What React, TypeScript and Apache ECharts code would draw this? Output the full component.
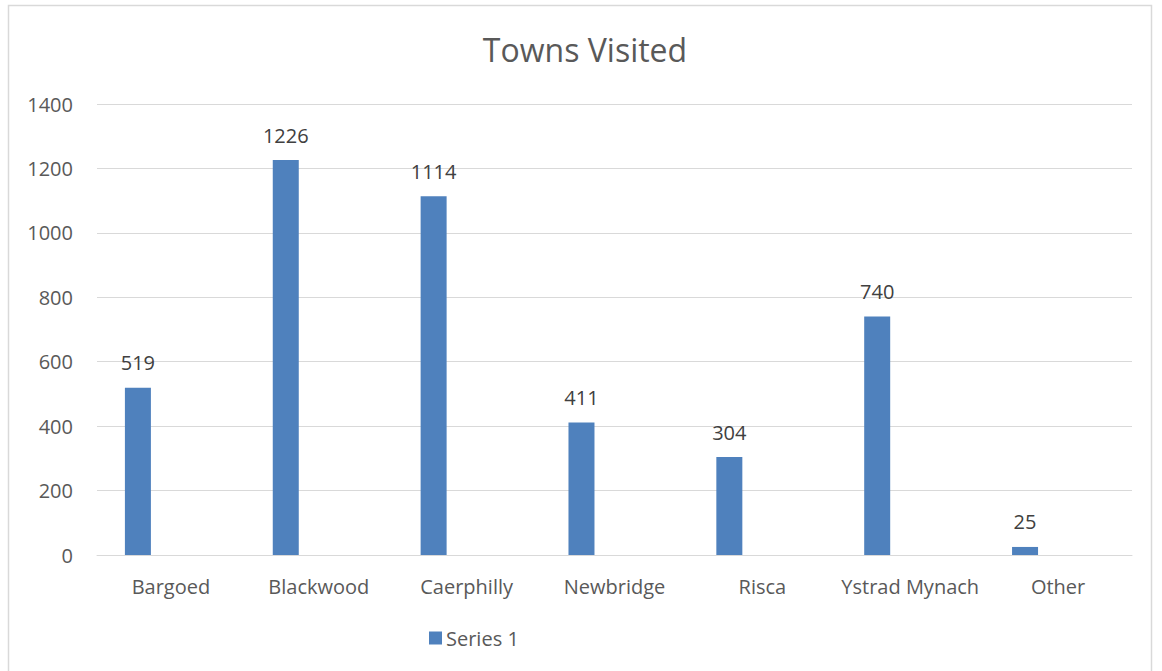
import React, { useEffect, useRef } from "react";
import * as echarts from "echarts";

const categories = ["Bargoed", "Blackwood", "Caerphilly", "Newbridge", "Risca", "Ystrad Mynach", "Other"];
const series1 = [519, 1226, 1114, 411, 304, 740, 25];
const emptySeries: (number | null)[] = [null, null, null, null, null, null, null];
const yTicks = { min: 0, max: 1400, interval: 200 };

const FONT = "'Open Sans', 'Noto Sans', sans-serif";
const TEXT = "#595959";

export default function App() {
  const ref = useRef<HTMLDivElement>(null);
  useEffect(() => {
    if (!ref.current) return;
    const chart = echarts.init(ref.current, null, { renderer: "svg" });
    chart.setOption({
      animation: false,
      backgroundColor: "#ffffff",
      textStyle: { fontFamily: FONT },
      title: {
        text: "Towns Visited",
        left: 580,
        top: 28,
        textAlign: "center",
        textStyle: { fontFamily: FONT, fontSize: 32, fontWeight: "normal", color: TEXT },
      },
      legend: {
        data: ["Series 1"],
        left: 424,
        top: 623,
        icon: "rect",
        itemWidth: 13,
        itemHeight: 13,
        itemGap: 20,
        textStyle: { fontFamily: FONT, fontSize: 20, color: TEXT, padding: [0, 0, 0, -1] },
      },
      grid: { left: 97, right: 30, top: 104, bottom: 116, containLabel: false },
      xAxis: {
        type: "category",
        data: categories,
        axisLine: { show: true, lineStyle: { color: "#D9D9D9", width: 1 } },
        axisTick: { show: false },
        axisLabel: { color: TEXT, fontFamily: FONT, fontSize: 20, margin: 21, interval: 0 },
      },
      yAxis: {
        type: "value",
        min: yTicks.min,
        max: yTicks.max,
        interval: yTicks.interval,
        axisLine: { show: false },
        axisTick: { show: false },
        splitLine: { lineStyle: { color: "#D9D9D9", width: 1 } },
        axisLabel: {
          color: TEXT,
          fontFamily: FONT,
          fontSize: 20,
          margin: 24,
          formatter: (v: number) => String(v),
        },
      },
      series: [
        {
          name: "Series 1",
          type: "bar",
          data: series1,
          barWidth: 26,
          barGap: "27%",
          itemStyle: { color: "#4F81BD" },
          label: {
            show: true,
            position: "top",
            distance: 15,
            color: "#404040",
            fontFamily: FONT,
            fontSize: 20,
          },
        },
        { name: "Series 2", type: "bar", data: emptySeries, barWidth: 26, itemStyle: { color: "#C0504D" } },
        { name: "Series 3", type: "bar", data: emptySeries, barWidth: 26, itemStyle: { color: "#9BBB59" } },
      ],
      graphic: [
        {
          type: "rect",
          shape: { x: 8.5, y: 5.5, width: 1143, height: 700 },
          style: { fill: "none", stroke: "#D9D9D9", lineWidth: 1.5 },
          silent: true,
        },
      ],
    });
    return () => chart.dispose();
  }, []);
  return (
    <div
      ref={ref}
      style={{ position: "fixed", left: 0, top: 0, width: 1162, height: 671 }}
    />
  );
}
